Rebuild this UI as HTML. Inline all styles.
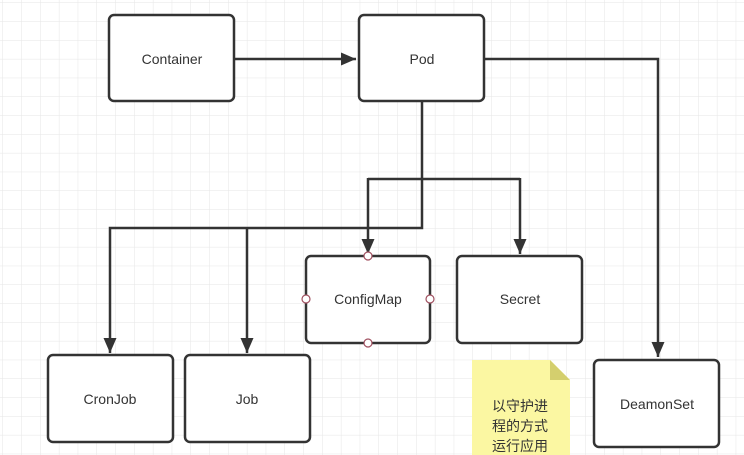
<!DOCTYPE html>
<html><head><meta charset="utf-8"><style>
html,body{margin:0;padding:0;background:#fff}
svg{display:block}
text{font-family:"Liberation Sans","Noto Sans CJK SC",sans-serif;fill:#333;font-size:14px}
</style></head><body>
<svg width="744" height="455" viewBox="0 0 744 455" xmlns="http://www.w3.org/2000/svg">
<defs>
<pattern id="g" width="18.8" height="18.8" patternUnits="userSpaceOnUse" x="3" y="3">
<path d="M18.8 0V18.8M0 18.8H18.8" stroke="#e6e6e6" stroke-width="1" fill="none"/>
</pattern>
<marker id="b" viewBox="0 0 10 10" markerWidth="15" markerHeight="13" refX="10" refY="5" orient="auto" markerUnits="userSpaceOnUse" preserveAspectRatio="none">
<path d="M0,0 L10,5 L0,10 Z" fill="#333"/>
</marker>
</defs>
<rect width="744" height="455" fill="url(#g)"/>
<g stroke="#333" stroke-width="2.5" fill="none">
<path d="M234 59H356" marker-end="url(#b)"/>
<path d="M484 59H658V357" marker-end="url(#b)"/>
<path d="M422 101V228H110V353" marker-end="url(#b)"/>
<path d="M247 228V353" marker-end="url(#b)"/>
<path d="M368 179H520"/>
<path d="M368 178V254" marker-end="url(#b)"/>
<path d="M520 178V254" marker-end="url(#b)"/>
</g>
<g stroke="#333" stroke-width="2.5" fill="#fff">
<rect x="109" y="15" width="125" height="86" rx="5"/>
<rect x="359" y="15" width="125" height="86" rx="5"/>
<rect x="306" y="256" width="124" height="87" rx="5"/>
<rect x="457" y="256" width="125" height="87" rx="5"/>
<rect x="48" y="355" width="125" height="87" rx="5"/>
<rect x="185" y="355" width="125" height="87" rx="5"/>
<rect x="594" y="360" width="125" height="87" rx="5"/>
</g>
<g stroke="#a05060" stroke-width="1.2" fill="#fff">
<circle cx="368" cy="256" r="4"/>
<circle cx="368" cy="343" r="4"/>
<circle cx="306" cy="299" r="4"/>
<circle cx="430" cy="299" r="4"/>
</g>
<path d="M472 360H550L570 380V455H472Z" fill="#fbf7a2"/>
<path d="M550 360L570 380H550Z" fill="#d4cf6e"/>
<g text-anchor="middle">
<text x="172" y="64">Container</text>
<text x="422" y="64">Pod</text>
<text x="368" y="304">ConfigMap</text>
<text x="520" y="304">Secret</text>
<text x="110" y="404">CronJob</text>
<text x="247" y="404">Job</text>
<text x="657" y="409">DeamonSet</text>
<text x="520" y="411">以守护进</text>
<text x="520" y="431">程的方式</text>
<text x="520" y="451">运行应用</text>
</g>
</svg>
</body></html>
